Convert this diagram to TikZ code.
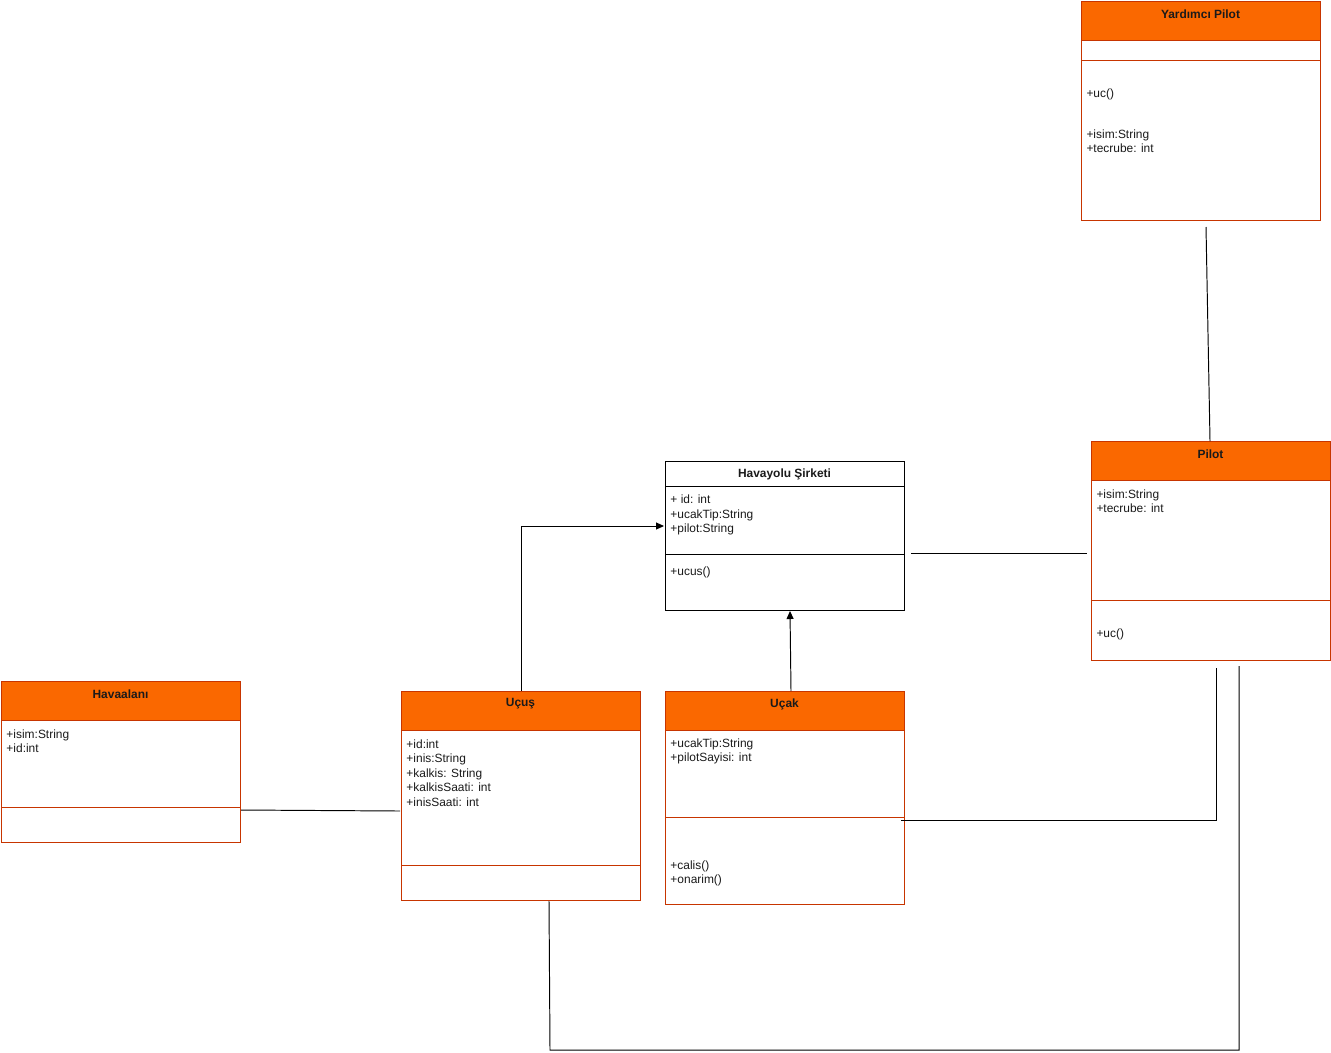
\documentclass[tikz,border=0pt]{standalone}
\usepackage{fontspec}
\setmainfont{Liberation Sans}
\usetikzlibrary{arrows.meta}
\definecolor{hdrfill}{HTML}{FA6800}
\definecolor{hdrdraw}{HTML}{C73500}
\definecolor{txt}{HTML}{1A1A1A}
\begin{document}
\begin{tikzpicture}[x=0.02cm,y=-0.02cm,
  font=\fontsize{6.8}{8.2}\selectfont, line width=0.55pt,
  obox/.style={draw=hdrdraw, fill=white, anchor=north west, inner sep=0pt, minimum width=4.78cm},
  bbox/.style={draw=black, fill=white, anchor=north west, inner sep=0pt, minimum width=4.78cm},
  hdr/.style={draw=hdrdraw, fill=hdrfill, anchor=north west, inner sep=0pt, minimum width=4.78cm, minimum height=0.78cm},
  title/.style={font=\fontsize{6.8}{8.2}\selectfont\bfseries, text=txt, inner sep=0pt},
  attr/.style={anchor=west, align=left, inner sep=0pt, text=txt},
  odiv/.style={draw=hdrdraw},
  conn/.style={draw=black, line width=0.55pt},
  arr/.style={conn, -{Triangle[length=0.16cm,width=0.14cm]}}]
\useasboundingbox (0,0) rectangle (1331,1052);

% Yardimci Pilot
\node[obox, minimum height=4.38cm] (yp) at (1081,1) {};
\node[hdr] (yph) at (1081,1) {};
\draw[odiv] (1081,60) -- (1320,60);
\node[title] (ypt) at (1200.5,14) {Yardımcı Pilot};
\node[attr] (ypa) at (1086,94.5) {+uc()};
\node[attr] (ypb) at (1086,141.5) {+isim:String\\+tecrube: int};

% Pilot
\node[obox, minimum height=4.38cm] (pilot) at (1091,441) {};
\node[hdr] (pilh) at (1091,441) {};
\draw[odiv] (1091,600) -- (1330,600);
\node[title] (pilt) at (1210.5,454) {Pilot};
\node[attr] (pila) at (1096,501.5) {+isim:String\\+tecrube: int};
\node[attr] (pilb) at (1096,634.5) {+uc()};

% Havayolu Sirketi
\node[bbox, minimum height=2.98cm] (hs) at (665,461) {};
\draw (665,486) -- (904,486);
\draw (665,554) -- (904,554);
\node[title] (hst) at (784.5,474) {Havayolu Şirketi};
\node[attr] (hsa) at (670,515) {+ id: int\\+ucakTip:String\\+pilot:String};
\node[attr] (hsb) at (670,572.5) {+ucus()};

% Havaalani
\node[obox, minimum height=3.22cm] (ha) at (1,681) {};
\node[hdr] (hah) at (1,681) {};
\draw[odiv] (1,807) -- (240,807);
\node[title] (hat) at (120.5,694) {Havaalanı};
\node[attr] (haa) at (6,741.5) {+isim:String\\+id:int};

% Ucus
\node[obox, minimum height=4.18cm] (ucus) at (401,691) {};
\node[hdr] (ucush) at (401,691) {};
\draw[odiv] (401,865) -- (640,865);
\node[title] (ucust) at (520.5,704) {Uçuş};
\node[attr] (ucusa) at (406,773) {+id:int\\+inis:String\\+kalkis: String\\+kalkisSaati: int\\+inisSaati: int};

% Ucak
\node[obox, minimum height=4.26cm] (ucak) at (665,691) {};
\node[hdr] (ucakh) at (665,691) {};
\draw[odiv] (665,817) -- (904,817);
\node[title] (ucakt) at (784.5,704) {Uçak};
\node[attr] (ucaka) at (670,751.5) {+ucakTip:String\\+pilotSayisi: int};
\node[attr] (ucakb) at (670,873.5) {+calis()\\+onarim()};

% connector end points
\coordinate (c1) at (1206,227);
\coordinate (c1b) at (1210,441);
\coordinate (c2a) at (911,553);
\coordinate (c2b) at (1087,553);
\coordinate (c3a) at (521,691);
\coordinate (c3b) at (664,526);
\coordinate (c4a) at (791,691);
\coordinate (c4b) at (790,611);
\coordinate (c5a) at (241,810);
\coordinate (c5b) at (400,811);
\coordinate (c6a) at (901,820);
\coordinate (c6b) at (1216,668);
\coordinate (c7a) at (549,901);
\coordinate (c7m) at (550,1050);
\coordinate (c7b) at (1239,666);

\draw[conn] (c1) -- (c1b);
\draw[conn] (c2a) -- (c2b);
\draw[arr] (c3a) |- (c3b);
\draw[arr] (c4a) -- (c4b);
\draw[conn] (c5a) -- (c5b);
\draw[conn] (c6a) -| (c6b);
\draw[conn] (c7a) -- (c7m) -| (c7b);
\end{tikzpicture}
\end{document}
